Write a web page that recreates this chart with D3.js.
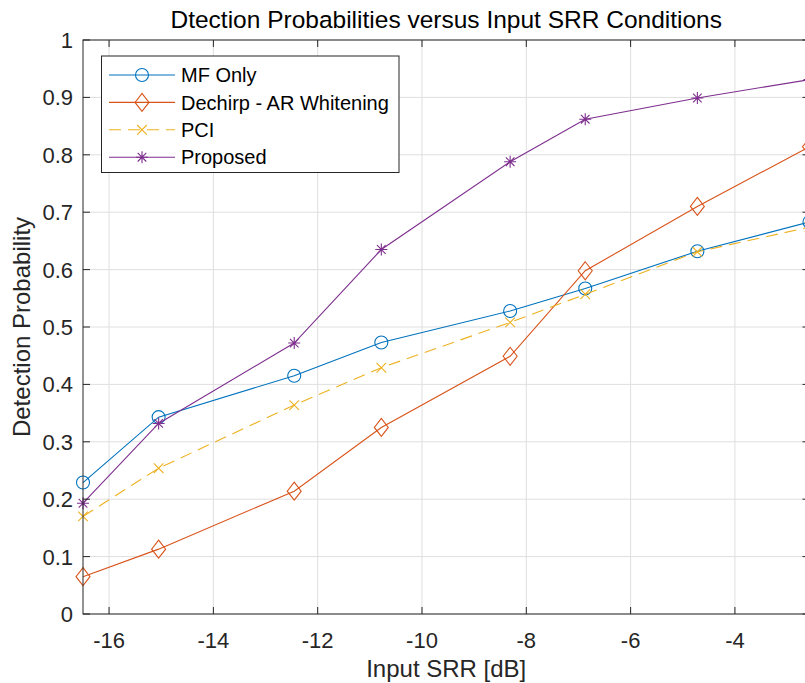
<!DOCTYPE html>
<html>
<head>
<meta charset="utf-8">
<script src="https://cdn.jsdelivr.net/npm/d3@7"></script>
<style>
  body { margin: 0; background: #fff; }
  svg { display: block; font-family: "Liberation Sans", Arial, Helvetica, sans-serif; }
</style>
</head>
<body>
<svg id="chart"></svg>
<script>
// data
var srr = [-16.50, -15.05, -12.45, -10.78, -8.31, -6.87, -4.72, -2.57];
var mfOnly = [0.229, 0.343, 0.415, 0.473, 0.528, 0.567, 0.632, 0.683];
var dechirp = [0.065, 0.113, 0.214, 0.325, 0.449, 0.598, 0.710, 0.814];
var pci = [0.170, 0.254, 0.364, 0.429, 0.508, 0.557, 0.631, 0.674];
var proposed = [0.193, 0.332, 0.472, 0.635, 0.788, 0.862, 0.899, 0.931];
var seriesNames = ["MF Only", "Dechirp - AR Whitening", "PCI", "Proposed"];
var xTicks = [-16, -14, -12, -10, -8, -6, -4];
var yTicks = [0, 0.1, 0.2, 0.3, 0.4, 0.5, 0.6, 0.7, 0.8, 0.9, 1];

var width = 805, height = 683;
// plot area (right edge falls just outside the picture, as in the reference)
var plotLeft = 83, plotRight = 809.5, plotTop = 40, plotBottom = 614;
var axisColor = "#262626";

var series = [
  { name: seriesNames[0], values: mfOnly, color: "#0072BD", marker: "circle", dash: null },
  { name: seriesNames[1], values: dechirp, color: "#D95319", marker: "diamond", dash: null },
  { name: seriesNames[2], values: pci, color: "#EDB120", marker: "x", dash: "12,7" },
  { name: seriesNames[3], values: proposed, color: "#7E2F8E", marker: "star", dash: null }
];

var x = d3.scaleLinear().domain([srr[0], srr[srr.length - 1]]).range([plotLeft, plotRight]);
var y = d3.scaleLinear().domain([0, 1]).range([plotBottom, plotTop]);

var svg = d3.select("#chart").attr("width", width).attr("height", height);

// grid
svg.append("g").selectAll("line").data(xTicks).enter().append("line")
  .attr("x1", function(d) { return x(d); }).attr("x2", function(d) { return x(d); })
  .attr("y1", plotTop).attr("y2", plotBottom)
  .attr("stroke", "#dfdfdf").attr("stroke-width", 1);
svg.append("g").selectAll("line").data(yTicks).enter().append("line")
  .attr("x1", plotLeft).attr("x2", plotRight)
  .attr("y1", function(d) { return y(d); }).attr("y2", function(d) { return y(d); })
  .attr("stroke", "#dfdfdf").attr("stroke-width", 1);

// marker shapes
function markerPath(type) {
  if (type === "diamond") return "M0,-9L7,0L0,9L-7,0Z";
  if (type === "x") return "M-4.8,-4.8L4.8,4.8M-4.8,4.8L4.8,-4.8";
  if (type === "star") return "M0,-6V6M-6,0H6M-4.3,-4.3L4.3,4.3M-4.3,4.3L4.3,-4.3";
  return null;
}
function drawMarker(g, type, color) {
  if (type === "circle") {
    g.append("circle").attr("r", 6.5).attr("fill", "none").attr("stroke", color).attr("stroke-width", 1.1);
  } else {
    g.append("path").attr("d", markerPath(type)).attr("fill", "none")
      .attr("stroke", color).attr("stroke-width", 1.1);
  }
}

var line = d3.line()
  .x(function(d, i) { return x(srr[i]); })
  .y(function(d) { return y(d); });

series.forEach(function(s) {
  svg.append("path")
    .attr("d", line(s.values))
    .attr("fill", "none")
    .attr("stroke", s.color)
    .attr("stroke-width", 1.1)
    .attr("stroke-dasharray", s.dash);
  svg.append("g").selectAll("g").data(s.values).enter().append("g")
    .attr("transform", function(d, i) { return "translate(" + x(srr[i]) + "," + y(d) + ")"; })
    .each(function() { drawMarker(d3.select(this), s.marker, s.color); });
});

// axes box
svg.append("rect")
  .attr("x", plotLeft).attr("y", plotTop)
  .attr("width", plotRight - plotLeft).attr("height", plotBottom - plotTop)
  .attr("fill", "none").attr("stroke", axisColor).attr("stroke-width", 1);

// ticks (inside, both sides)
var tickLen = 7;
svg.append("g").selectAll("path").data(xTicks).enter().append("path")
  .attr("d", function(d) {
    return "M" + x(d) + "," + plotBottom + "v" + (-tickLen) + "M" + x(d) + "," + plotTop + "v" + tickLen;
  })
  .attr("stroke", axisColor);
svg.append("g").selectAll("path").data(yTicks).enter().append("path")
  .attr("d", function(d) {
    return "M" + plotLeft + "," + y(d) + "h" + tickLen + "M" + plotRight + "," + y(d) + "h" + (-tickLen);
  })
  .attr("stroke", axisColor);

// tick labels
svg.append("g").selectAll("text").data(xTicks).enter().append("text")
  .attr("x", function(d) { return x(d); })
  .attr("y", plotBottom + 34)
  .attr("text-anchor", "middle")
  .attr("font-size", 22)
  .attr("fill", axisColor)
  .text(function(d) { return d; });
svg.append("g").selectAll("text").data(yTicks).enter().append("text")
  .attr("x", plotLeft - 10)
  .attr("y", function(d) { return y(d); })
  .attr("dy", "0.36em")
  .attr("text-anchor", "end")
  .attr("font-size", 22)
  .attr("fill", axisColor)
  .text(function(d) { return d; });

// title and labels
svg.append("text")
  .attr("x", (plotLeft + plotRight) / 2).attr("y", 28)
  .attr("text-anchor", "middle").attr("font-size", 24.5)
  .attr("fill", "#000")
  .text("Dtection Probabilities versus Input SRR Conditions");
svg.append("text")
  .attr("x", (plotLeft + plotRight) / 2).attr("y", 677)
  .attr("text-anchor", "middle").attr("font-size", 24)
  .attr("fill", axisColor)
  .text("Input SRR [dB]");
svg.append("text")
  .attr("transform", "translate(30," + (plotTop + plotBottom) / 2 + ") rotate(-90)")
  .attr("text-anchor", "middle").attr("font-size", 24)
  .attr("fill", axisColor)
  .text("Detection Probability");

// legend
var legend = svg.append("g");
legend.append("rect")
  .attr("x", 101.5).attr("y", 56)
  .attr("width", 297.5).attr("height", 116.5)
  .attr("fill", "#fff").attr("stroke", axisColor).attr("stroke-width", 1);

var item = legend.selectAll("g.item").data(series).enter().append("g")
  .attr("class", "item")
  .attr("transform", function(d, i) { return "translate(0," + (75 + i * 27.4) + ")"; });
item.append("line")
  .attr("x1", 109).attr("x2", 175).attr("y1", 0).attr("y2", 0)
  .attr("stroke", function(d) { return d.color; })
  .attr("stroke-width", 1.1)
  .attr("stroke-dasharray", function(d) { return d.dash; });
item.append("g")
  .attr("transform", "translate(142,0)")
  .each(function(d) { drawMarker(d3.select(this), d.marker, d.color); });
item.append("text")
  .attr("x", 181).attr("y", 0).attr("dy", "0.36em")
  .attr("font-size", 20)
  .attr("fill", "#000")
  .text(function(d) { return d.name; });
</script>
</body>
</html>
